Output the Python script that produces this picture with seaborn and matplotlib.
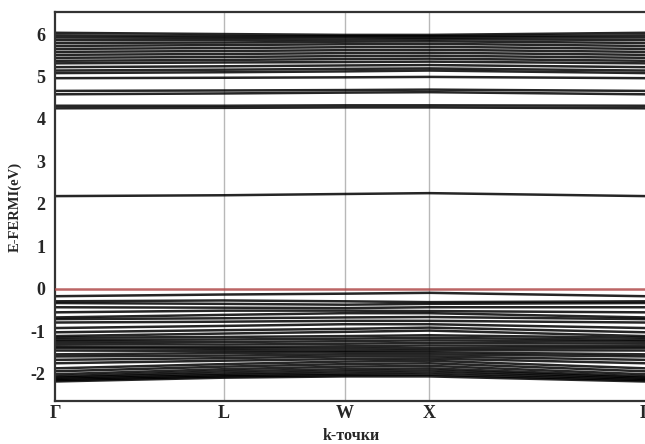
import numpy as np
import pandas as pd
import matplotlib
matplotlib.use("Agg")
import matplotlib.pyplot as plt
import seaborn as sns

# High-symmetry points
kpt_labels = ["Γ", "L", "W", "X", "Γ"]
kpt_pos = [0.0, 0.857, 1.474, 1.903, 3.0]

# Band energies (eV) at Γ, L, W, X (path returns to Γ)
valence_G = [-0.18, -0.30, -0.34, -0.44, -0.56, -0.68, -0.72, -0.80, -0.93, -1.03,
             -1.12, -1.16, -1.21, -1.25, -1.30, -1.36, -1.40, -1.46, -1.55, -1.60,
             -1.68, -1.76, -1.88, -1.95, -2.02, -2.07, -2.10, -2.13, -2.16, -2.19]
valence_L = [-0.14, -0.28, -0.36, -0.45, -0.52, -0.62, -0.70, -0.78, -0.88, -0.98,
             -1.06, -1.14, -1.20, -1.26, -1.32, -1.38, -1.42, -1.47, -1.52, -1.58,
             -1.64, -1.70, -1.78, -1.84, -1.90, -1.95, -2.00, -2.04, -2.07, -2.10]
valence_W = [-0.12, -0.30, -0.38, -0.46, -0.52, -0.58, -0.68, -0.76, -0.84, -0.95,
             -1.02, -1.12, -1.18, -1.24, -1.30, -1.36, -1.41, -1.46, -1.50, -1.55,
             -1.60, -1.66, -1.72, -1.78, -1.84, -1.90, -1.95, -2.00, -2.04, -2.07]
valence_X = [-0.10, -0.32, -0.36, -0.44, -0.53, -0.58, -0.67, -0.76, -0.84, -0.92,
             -0.99, -1.10, -1.16, -1.22, -1.28, -1.34, -1.40, -1.45, -1.50, -1.55,
             -1.60, -1.65, -1.70, -1.76, -1.82, -1.88, -1.93, -1.98, -2.03, -2.07]

gap_band = [2.18, 2.20, 2.23, 2.25]

cond_G = [4.25, 4.31, 4.58, 4.66, 4.96, 5.08, 5.14, 5.22, 5.31, 5.37,
          5.44, 5.51, 5.58, 5.65, 5.72, 5.79, 5.86, 5.92, 5.97, 6.03]
cond_L = [4.26, 4.31, 4.60, 4.67, 4.97, 5.10, 5.16, 5.24, 5.33, 5.39,
          5.46, 5.53, 5.60, 5.67, 5.74, 5.80, 5.86, 5.91, 5.95, 6.00]
cond_W = [4.27, 4.32, 4.62, 4.68, 4.98, 5.12, 5.18, 5.26, 5.34, 5.41,
          5.48, 5.55, 5.62, 5.69, 5.76, 5.82, 5.87, 5.92, 5.95, 5.98]
cond_X = [4.27, 4.32, 4.63, 4.69, 4.99, 5.14, 5.19, 5.27, 5.35, 5.42,
          5.49, 5.56, 5.63, 5.70, 5.77, 5.83, 5.88, 5.92, 5.95, 5.98]

fermi_level = 0.0

rows = []
bid = 0
def add(G, L, W, X):
    global bid
    for g, l, w, x in zip(G, L, W, X):
        for k, e in zip(kpt_pos, [g, l, w, x, g]):
            rows.append({"k": k, "E": e, "band": bid})
        bid += 1

add(valence_G, valence_L, valence_W, valence_X)
add([gap_band[0]], [gap_band[1]], [gap_band[2]], [gap_band[3]])
add(cond_G, cond_L, cond_W, cond_X)
df = pd.DataFrame(rows)

sns.set_theme(style="white")
plt.rcParams["font.family"] = ["Liberation Serif", "DejaVu Serif"]

fig = plt.figure(figsize=(6.45, 4.44), dpi=100)
ax = fig.add_axes([55/645, 43/444, 593/645, 389/444])

for xp in kpt_pos[1:4]:
    ax.axvline(xp, color="#b8b8b8", lw=1.0, zorder=0)

sns.lineplot(data=df, x="k", y="E", units="band", estimator=None,
             color="black", lw=1.8, alpha=0.85, ax=ax, legend=False)

ax.axhline(fermi_level, color="#b04a4a", lw=1.8, alpha=0.85, zorder=3)

ax.set_xlim(0, 3.015)
ax.set_ylim(-2.65, 6.52)
ax.set_xticks(kpt_pos)
ax.set_xticklabels(kpt_labels, fontweight="bold", fontsize=13)
ax.set_yticks([-2, -1, 0, 1, 2, 3, 4, 5, 6])
ax.set_yticklabels(["-2", "-1", "0", "1", "2", "3", "4", "5", "6"], fontweight="bold", fontsize=13)
ax.tick_params(axis="y", length=0, pad=7)
ax.tick_params(axis="x", length=0, pad=3)

ax.set_xlabel("k-точки", fontweight="bold", fontsize=11.5, labelpad=4)
ax.set_ylabel("E-FERMI(eV)", fontweight="bold", fontsize=10.5, labelpad=6)

for side in ["left", "bottom", "top"]:
    ax.spines[side].set_color("#333333")
    ax.spines[side].set_linewidth(1.6)
ax.spines["right"].set_visible(False)

fig.savefig("out.png", dpi=100)
